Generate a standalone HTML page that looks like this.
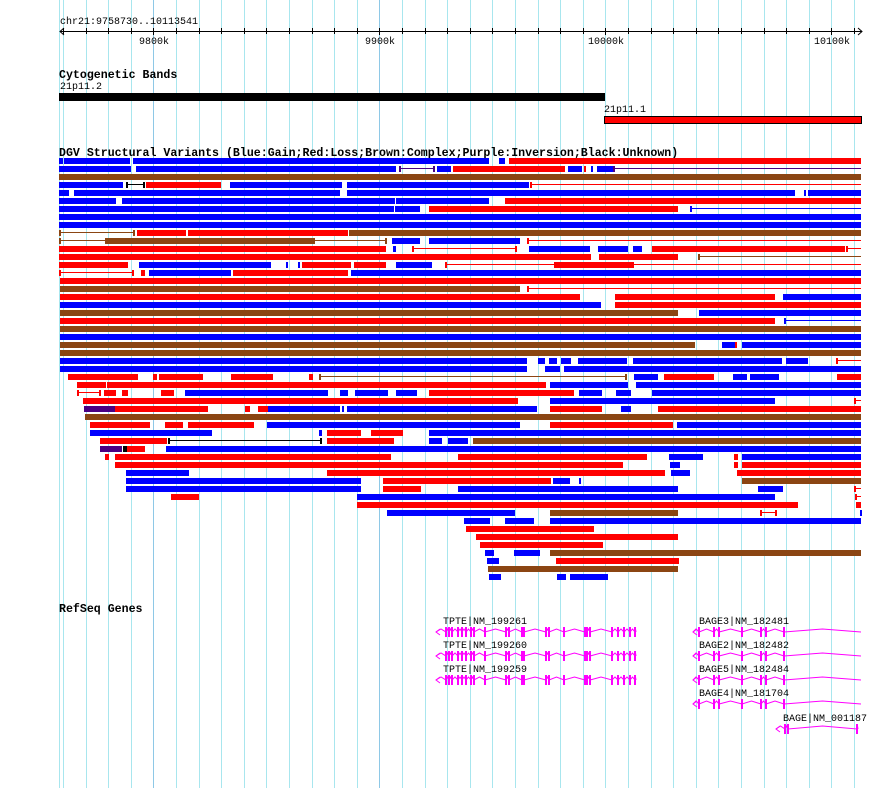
<!DOCTYPE html>
<html><head><meta charset="utf-8"><style>
html,body{margin:0;padding:0;background:#fff;}
svg{display:block;}
text{font-family:"Liberation Mono","DejaVu Sans Mono",monospace;}
</style></head><body>
<svg id="s" width="890" height="788" xmlns="http://www.w3.org/2000/svg"></svg>
<script>
var S=document.getElementById('s');var h='';
h+='<rect x="0" y="0" width="890" height="788" fill="#fff"/>';
// grid
var gx=[59,63];for(var k=-3;k<=31;k++){var x=153.3+22.6*k;if(x<=862)gx.push(x);}
gx.forEach(function(x){var d=Math.abs(((x-153.3)/22.6)%10)<0.01;h+='<rect x="'+Math.round(x)+'" y="0" width="1" height="788" fill="'+(d?'#8ec8e6':'#a8e6ee')+'"/>';});
// axis
h+='<text x="60" y="24" font-size="10">chr21:9758730..10113541</text>';
h+='<rect x="60" y="31" width="802" height="1" fill="#000"/>';
h+='<path d="M64,28 L60,31.5 L64,35 M858,28 L862,31.5 L858,35" stroke="#000" fill="none"/>';
for(var k=-4;k<=31;k++){var x=Math.round(153.3+22.6*k);if(x<62||x>860)continue;var big=(k%10==0);h+='<rect x="'+x+'" y="'+(big?28:28)+'" width="1" height="'+(big?7:6)+'" fill="#000"/>';}
[[153,'9800k'],[379,'9900k'],[605,'10000k'],[831,'10100k']].forEach(function(t){h+='<text x="'+(t[0]-t[1].length*3+1)+'" y="44" font-size="10">'+t[1]+'</text>';});
// cyto
h+='<text x="59" y="78" font-size="11.6" font-weight="bold">Cytogenetic Bands</text>';
h+='<text x="60" y="89" font-size="10">21p11.2</text>';
h+='<rect x="59" y="93" width="546" height="8" fill="#000"/>';
h+='<text x="604" y="112" font-size="10">21p11.1</text>';
h+='<rect x="604.5" y="116.5" width="257" height="7" fill="#f00" stroke="#000"/>';
h+='<text x="59" y="156" font-size="11.6" font-weight="bold">DGV Structural Variants (Blue:Gain;Red:Loss;Brown:Complex;Purple:Inversion;Black:Unknown)</text>';
var C={B:'#0000ff',R:'#ff0000',N:'#8b4513',P:'#4b0082',K:'#000000'};
var rows=[
[[59,63,'B'],[64,130,'B'],[133,489,'B'],[499,505,'B'],[509,861,'R']],
[[59,131,'B'],[136,396,'B'],[399,435,'p'],[437,451,'B'],[453,565,'R'],[568,582,'B'],[584,586,'R'],[591,593,'B'],[597,613,'B'],[613,861,'p']],
[[59,861,'N']],
[[59,123,'B'],[126,145,'k'],[146,221,'R'],[230,342,'B'],[347,529,'B'],[530,861,'r']],
[[59,69,'B'],[74,340,'B'],[347,795,'B'],[804,806,'B'],[808,861,'B']],
[[59,116,'B'],[122,395,'B'],[396,489,'B'],[505,861,'R']],
[[59,394,'B'],[395,420,'B'],[429,678,'R'],[690,861,'b']],
[[59,861,'B']],
[[59,861,'B']],
[[59,135,'n'],[137,186,'R'],[188,348,'R'],[349,861,'N']],
[[59,107,'n'],[107,313,'N'],[313,387,'n'],[392,420,'B'],[429,520,'B'],[527,861,'r']],
[[59,386,'R'],[393,396,'B'],[412,517,'r'],[529,590,'B'],[598,628,'B'],[633,642,'B'],[652,845,'R'],[846,861,'r']],
[[59,591,'R'],[599,678,'R'],[698,861,'n']],
[[59,128,'R'],[139,271,'B'],[286,288,'B'],[298,300,'B'],[302,351,'R'],[354,386,'R'],[396,432,'B'],[445,556,'r'],[556,632,'R'],[632,861,'r']],
[[59,134,'r'],[141,145,'R'],[149,231,'B'],[233,348,'R'],[351,861,'B']],
[[60,861,'R']],
[[60,520,'N'],[527,861,'r']],
[[60,580,'R'],[615,775,'R'],[783,861,'B']],
[[60,601,'B'],[615,861,'R']],
[[60,678,'N'],[699,861,'B']],
[[60,775,'R'],[784,861,'b']],
[[60,861,'N']],
[[60,861,'B']],
[[60,695,'N'],[722,735,'B'],[735,737,'R'],[742,861,'B']],
[[60,861,'N']],
[[60,527,'B'],[538,545,'B'],[549,557,'B'],[561,571,'B'],[578,627,'B'],[633,782,'B'],[786,808,'B'],[836,861,'r']],
[[60,527,'B'],[545,560,'B'],[564,861,'B']],
[[68,138,'R'],[153,157,'R'],[159,203,'R'],[231,273,'R'],[309,313,'R'],[319,627,'n'],[634,658,'B'],[664,714,'R'],[733,747,'B'],[750,779,'B'],[837,861,'R']],
[[77,106,'R'],[107,546,'R'],[550,628,'B'],[636,861,'B']],
[[77,101,'r'],[104,116,'R'],[122,128,'R'],[161,174,'R'],[185,328,'B'],[340,348,'B'],[355,388,'B'],[396,417,'B'],[429,574,'R'],[579,602,'B'],[616,631,'B'],[652,861,'B']],
[[83,518,'R'],[550,775,'B'],[854,861,'r']],
[[84,115,'P'],[115,208,'R'],[245,250,'R'],[258,268,'R'],[268,340,'B'],[342,344,'B'],[347,537,'B'],[550,602,'R'],[621,631,'B'],[658,861,'R']],
[[85,861,'N']],
[[90,150,'R'],[165,183,'R'],[188,254,'R'],[267,520,'B'],[550,673,'R'],[677,861,'B']],
[[90,212,'B'],[319,322,'B'],[327,361,'R'],[371,403,'R'],[429,861,'B']],
[[100,167,'R'],[168,322,'k'],[327,394,'R'],[429,442,'B'],[448,468,'B'],[473,861,'N']],
[[100,122,'P'],[123,127,'K'],[127,145,'R'],[166,861,'B']],
[[105,109,'R'],[115,391,'R'],[458,647,'R'],[669,703,'B'],[734,738,'R'],[742,861,'B']],
[[115,623,'R'],[670,680,'B'],[734,738,'R'],[742,861,'R']],
[[126,189,'B'],[327,665,'R'],[671,690,'B'],[737,861,'R']],
[[126,361,'B'],[383,551,'R'],[553,570,'B'],[579,581,'B'],[742,861,'N']],
[[126,361,'B'],[383,421,'R'],[458,678,'B'],[758,783,'B'],[854,861,'r']],
[[171,199,'R'],[357,775,'B'],[855,861,'r']],
[[357,798,'R'],[856,861,'R']],
[[387,515,'B'],[550,678,'N'],[760,777,'r'],[860,862,'B']],
[[464,490,'B'],[505,534,'B'],[550,861,'B']],
[[466,594,'R']],
[[476,678,'R']],
[[480,603,'R']],
[[485,494,'B'],[514,540,'B'],[550,861,'N']],
[[487,499,'B'],[556,679,'R']],
[[488,678,'N']],
[[489,501,'B'],[557,566,'B'],[570,608,'B']]
];
var MAP={b:'B',r:'R',n:'N',p:'P',k:'K'};
rows.forEach(function(r,i){var y=158+8*i;r.forEach(function(s){var t=s[2];
 if(C[t]){h+='<rect x="'+s[0]+'" y="'+y+'" width="'+(s[1]-s[0])+'" height="6" fill="'+C[t]+'"/>';}
 else{var c=C[MAP[t]];h+='<rect x="'+s[0]+'" y="'+(y+2)+'" width="'+(s[1]-s[0])+'" height="1" fill="'+c+'"/>';
  h+='<rect x="'+s[0]+'" y="'+y+'" width="2" height="6" fill="'+c+'"/>';
  if(s[1]<861)h+='<rect x="'+(s[1]-2)+'" y="'+y+'" width="2" height="6" fill="'+c+'"/>';}
});});
// genes
h+='<text x="59" y="612" font-size="11.6" font-weight="bold">RefSeq Genes</text>';
var M='#ff00ff';
function gene(label,lx,y,x0,x1,ex){h+='<text x="'+lx+'" y="'+(y-8)+'" font-size="10">'+label+'</text>';
 h+='<path d="M'+(x0+4)+','+(y-3)+' L'+x0+','+y+' L'+(x0+4)+','+(y+3)+'" stroke="'+M+'" fill="none"/>';
 var pts=[[x0,y]];var prev=x0;
 ex.forEach(function(e){var mid=(prev+e)/2;pts.push([mid,y-3]);pts.push([e,y]);prev=e;});
 if(prev<x1){pts.push([(prev+x1)/2,y-3]);pts.push([x1,y]);}
 h+='<polyline points="'+pts.map(function(p){return p.join(',');}).join(' ')+'" stroke="'+M+'" fill="none"/>';
 ex.forEach(function(e){h+='<rect x="'+(e-1)+'" y="'+(y-5)+'" width="2" height="10" fill="'+M+'"/>';});}
var tp=[446,449,452,458,462,466,471,474,485,506,509,522,524,546,549,564,585,587,590,612,618,624,630,635];
gene('TPTE|NM_199261',443,632,436,636,tp);
gene('TPTE|NM_199260',443,656,436,636,tp);
gene('TPTE|NM_199259',443,680,436,636,tp);
var bg=[699,714,719,742,761,766,784];
gene('BAGE3|NM_182481',699,632,693,861,bg);
gene('BAGE2|NM_182482',699,656,693,861,bg);
gene('BAGE5|NM_182484',699,680,693,861,bg);
gene('BAGE4|NM_181704',699,704,693,861,bg);
gene('BAGE|NM_001187',783,729,776,858,[785,788,857]);
S.innerHTML=h;
</script>
</body></html>
